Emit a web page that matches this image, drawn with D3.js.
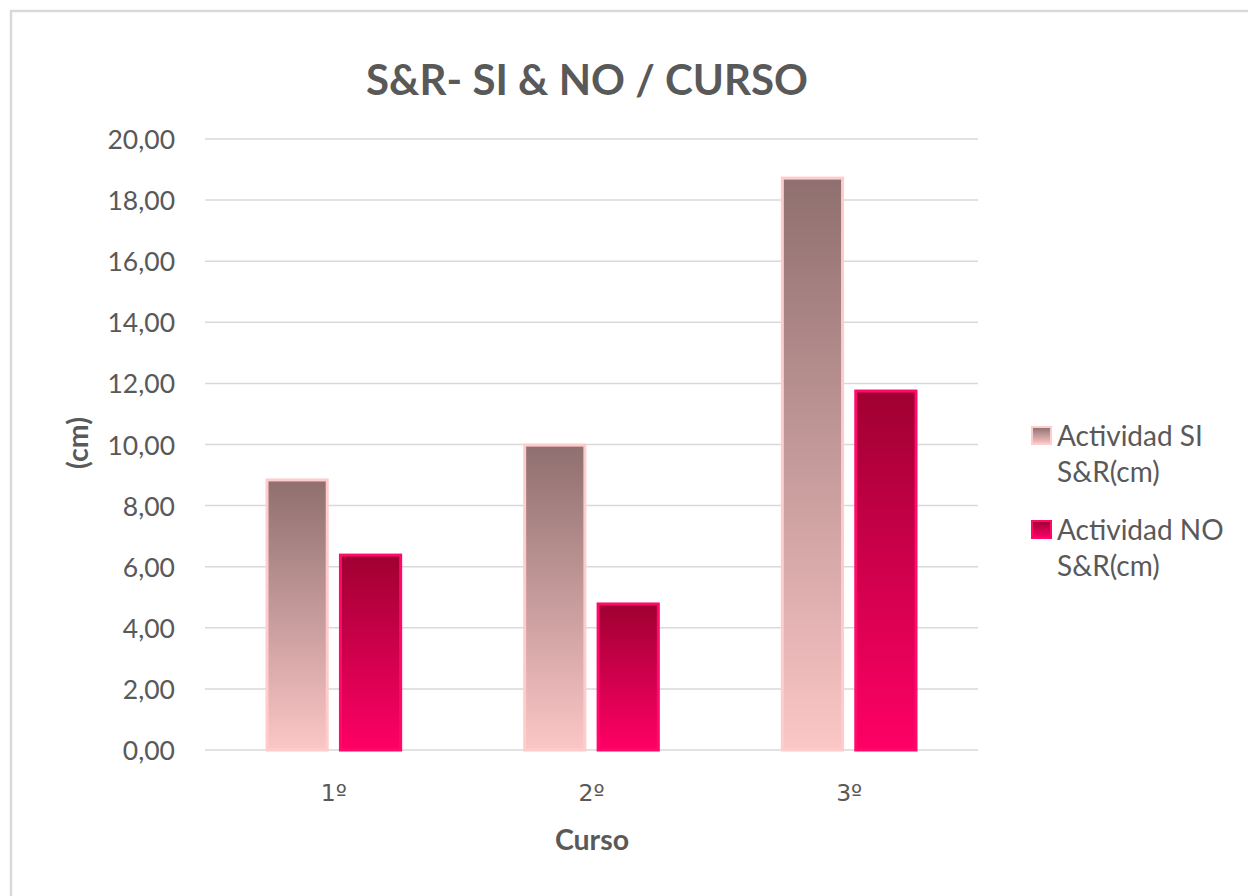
<!DOCTYPE html>
<html><head><meta charset="utf-8">
<script src="https://cdn.jsdelivr.net/npm/d3@7"></script>
<style>
html,body{margin:0;padding:0;background:#fff;}
svg{display:block;}
text{fill:#595959;}
</style></head>
<body>
<script>
const categories = ["1º","2º","3º"];
const seriesNames = ["Actividad SI S&R(cm)","Actividad NO S&R(cm)"];
const siValues = [8.84, 9.98, 18.72];
const noValues = [6.38, 4.78, 11.75];
const yTicks = [0,2,4,6,8,10,12,14,16,18,20];
const title = "S&R- SI & NO / CURSO";
const xTitle = "Curso";
const yTitle = "(cm)";

const W = 1248, H = 896;
const svg = d3.select("body").append("svg").attr("width", W).attr("height", H)
  .style("font-family", "Lato, 'Open Sans', sans-serif");

// frame
svg.append("rect").attr("x", 11).attr("y", 11).attr("width", W + 20).attr("height", H + 20)
  .attr("fill", "#fff").attr("stroke", "#d9d9d9").attr("stroke-width", 2.5);

const defs = svg.append("defs");
const g1 = defs.append("linearGradient").attr("id", "gSI").attr("x1", 0).attr("y1", 0).attr("x2", 0).attr("y2", 1);
g1.append("stop").attr("offset", "0%").attr("stop-color", "#8f6f6f");
g1.append("stop").attr("offset", "100%").attr("stop-color", "#fcc6c6");
const g2 = defs.append("linearGradient").attr("id", "gNO").attr("x1", 0).attr("y1", 0).attr("x2", 0).attr("y2", 1);
g2.append("stop").attr("offset", "0%").attr("stop-color", "#a00032");
g2.append("stop").attr("offset", "100%").attr("stop-color", "#ff0066");

const fills = ["url(#gSI)", "url(#gNO)"];
const strokes = ["#ffcccc", "#ff0a6a"];

const x0 = d3.scaleBand().domain(categories).range([205, 978]).paddingInner(0.43).paddingOuter(0.215);
const x1 = d3.scaleBand().domain([0, 1]).range([0, x0.bandwidth()]).paddingInner(0.18).paddingOuter(0.09);
const y = d3.scaleLinear().domain([0, 20]).range([750, 139]);

// gridlines
svg.append("g").selectAll("line").data(yTicks).join("line")
  .attr("x1", 205).attr("x2", 978)
  .attr("y1", d => y(d)).attr("y2", d => y(d))
  .attr("stroke", "#d9d9d9").attr("stroke-width", 1.5);

// y tick labels
const yAxis = d3.axisLeft(y).tickValues(yTicks).tickSize(0).tickPadding(0)
  .tickFormat(d => d3.format(".2f")(d).replace(".", ","));
const ya = svg.append("g").attr("transform", "translate(175,0)").call(yAxis);
ya.select(".domain").remove();
ya.selectAll("text").style("font-size", "26.5px").style("fill", "#595959").style("font-family", "Lato").attr("dy", "0.36em");

// bars
const data = categories.map((c, i) => ({c, vals: [siValues[i], noValues[i]]}));
const groups = svg.append("g").selectAll("g").data(data).join("g")
  .attr("transform", d => `translate(${x0(d.c)},0)`);
groups.selectAll("rect").data(d => d.vals.map((v, k) => ({v, k}))).join("rect")
  .attr("x", d => x1(d.k)).attr("width", x1.bandwidth())
  .attr("y", d => y(d.v)).attr("height", d => y(0) - y(d.v))
  .attr("fill", d => fills[d.k]).attr("stroke", d => strokes[d.k]).attr("stroke-width", 3);

// x labels
const xAxis = d3.axisBottom(x0).tickSize(0).tickPadding(0);
const xa = svg.append("g").attr("transform", "translate(0,801)").call(xAxis);
xa.select(".domain").remove();
xa.selectAll("text").style("font-size", "23.5px").style("fill", "#595959").style("font-family", "'DejaVu Sans'").attr("dy", 0);

// title
svg.append("text").attr("x", 587).attr("y", 95).attr("text-anchor", "middle")
  .style("font-size", "42px").style("font-weight", "bold").text(title);
// axis titles
svg.append("text").attr("x", 592).attr("y", 850).attr("text-anchor", "middle")
  .style("font-size", "28.5px").style("font-weight", "bold").text(xTitle);
svg.append("text").attr("transform", "translate(88,443) rotate(-90)").attr("text-anchor", "middle")
  .style("font-size", "28.5px").style("font-weight", "bold").text(yTitle);

// legend
const legendLines = [["Actividad SI", "S&R(cm)"], ["Actividad NO", "S&R(cm)"]];
const leg = svg.append("g");
legendLines.forEach((lines, k) => {
  const top = 427 + k * 94;
  leg.append("rect").attr("x", 1032).attr("y", top).attr("width", 19).attr("height", 17)
    .attr("fill", fills[k]).attr("stroke", strokes[k]).attr("stroke-width", 2);
  lines.forEach((t, j) => {
    leg.append("text").attr("x", 1057).attr("y", top + 19 + j * 36)
      .style("font-size", "28px").text(t);
  });
});
</script>
</body></html>
